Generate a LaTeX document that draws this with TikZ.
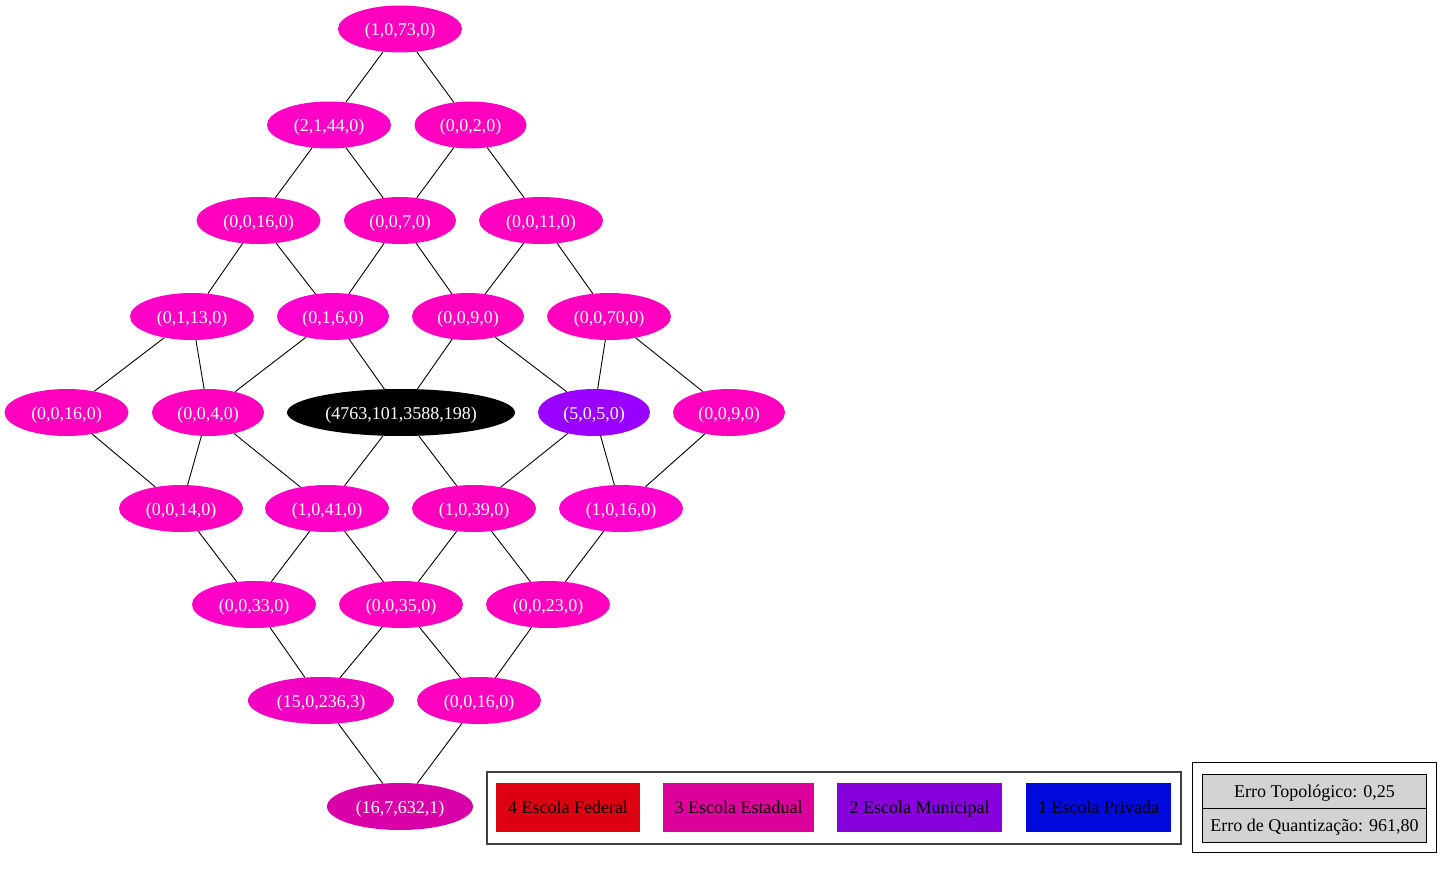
\documentclass[tikz,border=0pt]{standalone}
\usepackage{fontspec}
\setmainfont{Liberation Serif}
\usetikzlibrary{shapes.geometric}
\definecolor{pk}{HTML}{FF00BE}
\definecolor{pkb}{HTML}{FF00C6}
\definecolor{pkm}{HTML}{FF00CE}
\definecolor{pkc}{HTML}{F200C2}
\definecolor{pkd}{HTML}{DA00A8}
\definecolor{vio}{HTML}{9900FF}
\definecolor{legred}{HTML}{DC0010}
\definecolor{legmag}{HTML}{DC009C}
\definecolor{legpur}{HTML}{8800DC}
\definecolor{legblu}{HTML}{000ADC}
\definecolor{cellgray}{HTML}{D3D3D3}
\tikzset{
  som/.style={ellipse, draw=none, fill=#1, text=white, inner sep=0pt,
    minimum height=47pt, text height=13pt, text depth=0pt,
    font=\fontsize{18}{20}\selectfont},
  wa/.style={minimum width=124pt},
  wb/.style={minimum width=112pt},
  wc/.style={minimum width=146pt},
  edge/.style={draw=black, line width=0.9pt},
  legbox/.style={rectangle, draw=none, fill=#1, text=black, inner sep=0pt,
    minimum height=49pt, text height=11.5pt, text depth=0pt,
    font=\fontsize{18}{20}\selectfont},
  frame/.style={rectangle, fill=none, inner sep=0pt},
  cell/.style={rectangle, draw=black, line width=1pt, fill=cellgray, inner sep=0pt,
    minimum width=224pt, minimum height=34pt, text height=12pt, text depth=0pt,
    font=\fontsize{18}{20}\selectfont}
}
\begin{document}
\begin{tikzpicture}[x=1pt,y=-1pt]
\useasboundingbox[fill=white] (0,0) rectangle (1453,869);
% row 1
\node[som=pk,wa] (n1) at (400,29) {(1,0,73,0)};
% row 2
\node[som=pkb,wa] (n21) at (329,125) {(2,1,44,0)};
\node[som=pk,wb] (n22) at (470.5,125) {(0,0,2,0)};
% row 3
\node[som=pk,wa] (n31) at (258.5,220.5) {(0,0,16,0)};
\node[som=pk,wb] (n32) at (400,220.5) {(0,0,7,0)};
\node[som=pk,wa] (n33) at (541,220.5) {(0,0,11,0)};
% row 4
\node[som=pkb,wa] (n41) at (192,316.5) {(0,1,13,0)};
\node[som=pkm,wb] (n42) at (333,316.5) {(0,1,6,0)};
\node[som=pk,wb] (n43) at (468,316.5) {(0,0,9,0)};
\node[som=pk,wa] (n44) at (609,316.5) {(0,0,70,0)};
% row 5
\node[som=pk,wa] (n51) at (66.5,412.5) {(0,0,16,0)};
\node[som=pk,wb] (n52) at (208,412.5) {(0,0,4,0)};
\node[som=black,minimum width=228pt] (n53) at (401,412.5) {(4763,101,3588,198)};
\node[som=vio,wb] (n54) at (594,412.5) {(5,0,5,0)};
\node[som=pk,wb] (n55) at (729,412.5) {(0,0,9,0)};
% row 6
\node[som=pk,wa] (n61) at (181,508.5) {(0,0,14,0)};
\node[som=pkb,wa] (n62) at (327,508.5) {(1,0,41,0)};
\node[som=pk,wa] (n63) at (474,508.5) {(1,0,39,0)};
\node[som=pkm,wa] (n64) at (621,508.5) {(1,0,16,0)};
% row 7
\node[som=pkb,wa] (n71) at (254,604.5) {(0,0,33,0)};
\node[som=pk,wa] (n72) at (401,604.5) {(0,0,35,0)};
\node[som=pk,wa] (n73) at (548,604.5) {(0,0,23,0)};
% row 8
\node[som=pkc,wc] (n81) at (321,700.5) {(15,0,236,3)};
\node[som=pk,wa] (n82) at (479,700.5) {(0,0,16,0)};
% row 9
\node[som=pkd,wc] (n91) at (400,806.5) {(16,7,632,1)};
% edges
\draw[edge] (n1) -- (n21);
\draw[edge] (n1) -- (n22);
\draw[edge] (n21) -- (n31);
\draw[edge] (n21) -- (n32);
\draw[edge] (n22) -- (n32);
\draw[edge] (n22) -- (n33);
\draw[edge] (n31) -- (n41);
\draw[edge] (n31) -- (n42);
\draw[edge] (n32) -- (n42);
\draw[edge] (n32) -- (n43);
\draw[edge] (n33) -- (n43);
\draw[edge] (n33) -- (n44);
\draw[edge] (n41) -- (n51);
\draw[edge] (n41) -- (n52);
\draw[edge] (n42) -- (n52);
\draw[edge] (n42) -- (n53);
\draw[edge] (n43) -- (n53);
\draw[edge] (n43) -- (n54);
\draw[edge] (n44) -- (n54);
\draw[edge] (n44) -- (n55);
\draw[edge] (n51) -- (n61);
\draw[edge] (n52) -- (n61);
\draw[edge] (n52) -- (n62);
\draw[edge] (n53) -- (n62);
\draw[edge] (n53) -- (n63);
\draw[edge] (n54) -- (n63);
\draw[edge] (n54) -- (n64);
\draw[edge] (n55) -- (n64);
\draw[edge] (n61) -- (n71);
\draw[edge] (n62) -- (n71);
\draw[edge] (n62) -- (n72);
\draw[edge] (n63) -- (n72);
\draw[edge] (n63) -- (n73);
\draw[edge] (n64) -- (n73);
\draw[edge] (n71) -- (n81);
\draw[edge] (n72) -- (n81);
\draw[edge] (n72) -- (n82);
\draw[edge] (n73) -- (n82);
\draw[edge] (n81) -- (n91);
\draw[edge] (n82) -- (n91);
% legend
\node[frame, draw=black!75, line width=2pt, minimum width=694pt, minimum height=72pt] (leg) at (834.25,807.5) {};
\node[legbox=legred, minimum width=144pt] (l4) at (568,807.5) {4 Escola Federal};
\node[legbox=legmag, minimum width=151pt] (l3) at (738.5,807.5) {3 Escola Estadual};
\node[legbox=legpur, minimum width=165pt] (l2) at (919.5,807.5) {2 Escola Municipal};
\node[legbox=legblu, minimum width=145pt] (l1) at (1098.5,807.5) {1 Escola Privada};
% error box
\node[frame, draw=black, line width=1.2pt, minimum width=244pt, minimum height=90pt] (err) at (1314.25,807.5) {};
\node[cell] (e1) at (1314.5,791.5) {Erro Topológico: 0,25};
\node[cell] (e2) at (1314.5,825.5) {Erro de Quantização: 961,80};
\end{tikzpicture}
\end{document}
